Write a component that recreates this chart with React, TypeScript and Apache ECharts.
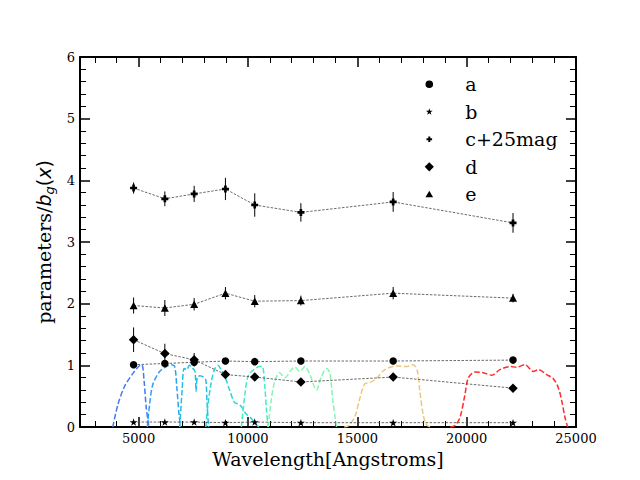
import React, { useEffect, useRef } from "react";
import * as echarts from "echarts";

// ---- data ----
const wavelengths = [4770, 6200, 7540, 8970, 10310, 12420, 16640, 22120];
const aValues = [1.01, 1.03, 1.05, 1.07, 1.06, 1.07, 1.07, 1.085];
const aErrors = [0.02, 0.02, 0.02, 0.02, 0.02, 0.02, 0.02, 0.02];
const bValues = [0.08, 0.08, 0.08, 0.07, 0.08, 0.07, 0.07, 0.07];
const bErrors = [0.01, 0.01, 0.01, 0.01, 0.01, 0.01, 0.01, 0.01];
const cValues = [3.875, 3.7, 3.78, 3.86, 3.6, 3.48, 3.65, 3.31];
const cErrors = [0.09, 0.12, 0.13, 0.18, 0.19, 0.15, 0.16, 0.16];
const dValues = [1.415, 1.19, 1.09, 0.85, 0.81, 0.73, 0.81, 0.63];
const dErrors = [0.2, 0.16, 0.11, 0.04, 0.04, 0.04, 0.04, 0.03];
const eValues = [1.97, 1.93, 1.99, 2.17, 2.04, 2.05, 2.17, 2.09];
const eErrors = [0.13, 0.13, 0.1, 0.1, 0.1, 0.08, 0.1, 0.07];

const filterG = [[3820, 0], [4050, 0.36], [4360, 0.66], [4740, 0.87], [5000, 0.98], [5150, 1.01], [5250, 0.75], [5350, 0.31], [5470, 0]];
const filterR = [[5400, 0], [5500, 0.36], [5650, 0.69], [5960, 0.9], [6270, 0.98], [6500, 1.01], [6650, 0.98], [6750, 0.63], [6850, 0.2], [6920, 0]];
const filterI = [[6880, 0], [6990, 0.6], [7080, 0.95], [7200, 0.93], [7320, 1.0], [7480, 0.95], [7580, 0.9], [7630, 0.58], [7680, 0.8], [7800, 0.83], [8000, 0.8], [8080, 0.75], [8130, 0.39], [8200, 0]];
const filterZ = [[8070, 0], [8170, 0.36], [8330, 0.74], [8480, 0.94], [8630, 1.0], [8740, 0.95], [8940, 0.82], [9160, 0.6], [9380, 0.4], [9560, 0.37], [9700, 0.33], [9900, 0.22], [10150, 0.14], [10350, 0.05], [10500, 0]];
const filterY = [[9700, 0], [9850, 0.5], [10000, 0.82], [10230, 0.92], [10540, 0.98], [10660, 0.98], [10770, 0.66], [10845, 0.28], [10920, 0]];
const filterJ = [[10920, 0], [11070, 0.45], [11230, 0.75], [11450, 0.88], [11680, 0.8], [11990, 0.93], [12140, 0.97], [12370, 0.9], [12600, 0.98], [12830, 0.85], [13130, 0.6], [13360, 0.82], [13590, 0.95], [13740, 0.88], [13890, 0.4], [14050, 0]];
const filterH = [[14400, 0], [14600, 0.02], [14890, 0.17], [15120, 0.47], [15340, 0.7], [15570, 0.72], [15880, 0.79], [16260, 0.93], [16790, 0.99], [17250, 0.98], [17560, 1.01], [17740, 0.92], [17860, 0.58], [18010, 0.2], [18170, 0.03], [18350, 0]];
const filterK = [[19250, 0], [19450, 0.02], [19690, 0.15], [19920, 0.52], [20070, 0.79], [20380, 0.89], [20760, 0.88], [21150, 0.84], [21520, 0.93], [21980, 0.98], [22290, 0.97], [22670, 1.01], [23050, 0.9], [23280, 0.93], [23660, 0.85], [23970, 0.78], [24200, 0.63], [24350, 0.42], [24500, 0.15], [24620, 0]];

const filterCurves = [filterG, filterR, filterI, filterZ, filterY, filterJ, filterH, filterK];
const filterColors = ["#3f7cf2", "#2f9ff0", "#22bde9", "#2ad6dc", "#45ebc4", "#86f7b2", "#e6c97c", "#ff2a2a"];

const xMajorTicks = [5000, 10000, 15000, 20000, 25000];
const xMinorTicks = [3000, 4000, 6000, 7000, 8000, 9000, 11000, 12000, 13000, 14000, 16000, 17000, 18000, 19000, 21000, 22000, 23000, 24000];
const X_MIN = 2320;
const X_MAX = 25000;

const seriesNames = ["a", "b", "c+25mag", "d", "e"];

// ---- symbols ----
const STAR = "path://M0,-1L0.2245,-0.309L0.951,-0.309L0.363,0.118L0.588,0.809L0,0.382L-0.588,0.809L-0.363,0.118L-0.951,-0.309L-0.2245,-0.309Z";
const PLUS = "path://M-1,-0.38L-0.38,-0.38L-0.38,-1L0.38,-1L0.38,-0.38L1,-0.38L1,0.38L0.38,0.38L0.38,1L-0.38,1L-0.38,0.38L-1,0.38Z";

const BOX = "M-5,-5M5,5";
const L_CIRCLE = "path://" + BOX + "M-3.8,0A3.8,3.8,0,1,0,3.8,0A3.8,3.8,0,1,0,-3.8,0Z";
const L_STAR = "path://" + BOX + "M0,-3.6L0.81,-1.11L3.42,-1.11L1.31,0.42L2.12,2.91L0,1.38L-2.12,2.91L-1.31,0.42L-3.42,-1.11L-0.81,-1.11Z";
const L_PLUS = "path://" + BOX + "M-2.8,-1L-1,-1L-1,-2.8L1,-2.8L1,-1L2.8,-1L2.8,1L1,1L1,2.8L-1,2.8L-1,1L-2.8,1Z";
const L_DIAMOND = "path://" + BOX + "M0,-4.6L4.6,0L0,4.6L-4.6,0Z";
const L_TRIANGLE = "path://" + BOX + "M0,-3.6L3.8,2.9L-3.8,2.9Z";

const serif = "'DejaVu Serif', serif";
const sans = "'DejaVu Sans', sans-serif";

function pairs(vals: number[]) {
  return wavelengths.map((w, i) => [w, vals[i]]);
}
function triples(vals: number[], errs: number[]) {
  return wavelengths.map((w, i) => [w, vals[i], errs[i]]);
}

export default function App() {
  const ref = useRef<HTMLDivElement>(null);

  useEffect(() => {
    if (!ref.current) return;
    const chart = echarts.init(ref.current, undefined, { renderer: "svg" });

    const black = "#000";
    const baseX: any = {
      type: "value",
      min: X_MIN,
      max: X_MAX,
      splitLine: { show: false },
      axisLabel: { show: false },
      axisLine: { show: false, onZero: false },
    };
    const majorTick = { show: true, inside: true, length: 10, lineStyle: { color: black, width: 1.5 }, customValues: xMajorTicks };
    const minorTick = { show: true, inside: true, length: 6, lineStyle: { color: black, width: 1 }, customValues: xMinorTicks };
    const spine = { show: true, onZero: false, lineStyle: { color: black, width: 2 } };

    const yBase: any = {
      type: "value",
      min: 0,
      max: 6,
      interval: 1,
      splitLine: { show: false },
      minorSplitLine: { show: false },
      axisLine: spine,
      axisTick: { show: true, inside: true, length: 10, lineStyle: { color: black, width: 1.5 } },
      minorTick: { show: true, splitNumber: 5, length: 6, lineStyle: { color: black, width: 1 } },
    };

    const filterSeries = filterCurves.map((curve, i) => ({
      type: "line",
      name: "filter" + i,
      data: curve,
      showSymbol: false,
      smooth: 0.3,
      silent: true,
      z: 2,
      lineStyle: { color: filterColors[i], width: 1.5, type: [5.5, 2.4] },
    }));

    const valueSets = [aValues, bValues, cValues, dValues, eValues];
    const errorSets = [aErrors, bErrors, cErrors, dErrors, eErrors];
    const symbols = ["circle", STAR, PLUS, "diamond", "triangle"];
    const sizes: any[] = [7.5, 8, 7, 9.5, [8, 7.5]];

    const connectorSeries = valueSets.map((vals, i) => ({
      type: "line",
      name: "conn" + i,
      data: pairs(vals),
      showSymbol: false,
      silent: true,
      z: 3,
      lineStyle: { color: "#444", width: 0.8, type: [2.5, 1.5] },
    }));

    const errorSeries = valueSets.map((vals, i) => ({
      type: "custom",
      name: "err" + i,
      data: triples(vals, errorSets[i]),
      encode: { x: 0, y: 1 },
      silent: true,
      z: 4,
      renderItem: (params: any, api: any) => {
        const x = api.value(0);
        const y = api.value(1);
        const e = api.value(2);
        const p1 = api.coord([x, y - e]);
        const p2 = api.coord([x, y + e]);
        return {
          type: "line",
          shape: { x1: p1[0], y1: p1[1], x2: p2[0], y2: p2[1] },
          style: { stroke: black, lineWidth: 1 },
        };
      },
    }));

    const markerSeries = valueSets.map((vals, i) => ({
      type: "scatter",
      name: seriesNames[i],
      data: pairs(vals),
      symbol: symbols[i],
      symbolSize: sizes[i],
      symbolKeepAspect: true,
      z: 5,
      itemStyle: { color: black, opacity: 1, borderWidth: 0 },
    }));

    chart.setOption({
      animation: false,
      backgroundColor: "#fff",
      grid: { left: 80, right: 64, top: 57, bottom: 53, containLabel: false, outerBoundsMode: "none" },
      legend: {
        data: [
          { name: "a", icon: L_CIRCLE },
          { name: "b", icon: L_STAR },
          { name: "c+25mag", icon: L_PLUS },
          { name: "d", icon: L_DIAMOND },
          { name: "e", icon: L_TRIANGLE },
        ],
        orient: "vertical",
        left: 424.3,
        top: 74.3,
        padding: 0,
        itemWidth: 10,
        itemHeight: 10,
        itemGap: 7.5,
        selectedMode: false,
        symbolKeepAspect: true,
        itemStyle: { color: black, borderWidth: 0 },
        textStyle: { fontFamily: serif, fontSize: 19, color: black, lineHeight: 20, padding: [0, 0, 0, 26] },
      },
      xAxis: [
        {
          ...baseX,
          position: "bottom",
          axisLine: spine,
          axisTick: majorTick,
          axisLabel: {
            show: true,
            customValues: xMajorTicks,
            margin: 5,
            color: black,
            fontSize: 13,
            fontFamily: serif,
            formatter: (v: number) => String(Math.round(v)),
          },
          name: "Wavelength[Angstroms]",
          nameLocation: "middle",
          nameGap: 21,
          nameTextStyle: { fontFamily: serif, fontSize: 19, color: black },
        },
        { ...baseX, position: "bottom", axisTick: minorTick },
        { ...baseX, position: "top", axisLine: spine, axisTick: majorTick },
        { ...baseX, position: "top", axisTick: minorTick },
      ],
      yAxis: [
        {
          ...yBase,
          position: "left",
          axisLabel: { show: true, margin: 5, color: black, fontSize: 13, fontFamily: serif },
          name: "{n|parameters/}{i|b}{s|g}{p|(}{i|x}{p|)}",
          nameLocation: "middle",
          nameGap: 23,
          nameTextStyle: {
            color: black,
            fontSize: 19,
            fontFamily: serif,
            rich: {
              n: { fontFamily: serif, fontSize: 19, color: black, lineHeight: 24 },
              i: { fontFamily: sans, fontStyle: "italic", fontSize: 19, color: black, lineHeight: 24 },
              p: { fontFamily: sans, fontSize: 19, color: black, lineHeight: 24 },
              s: { fontFamily: sans, fontStyle: "italic", fontSize: 13, color: black, lineHeight: 14, verticalAlign: "bottom" },
            },
          },
        },
        { ...yBase, position: "right", axisLabel: { show: false } },
      ],
      series: [...filterSeries, ...connectorSeries, ...errorSeries, ...markerSeries],
    });

    return () => chart.dispose();
  }, []);

  return <div ref={ref} style={{ position: "absolute", left: 0, top: 0, width: 640, height: 480 }} />;
}
